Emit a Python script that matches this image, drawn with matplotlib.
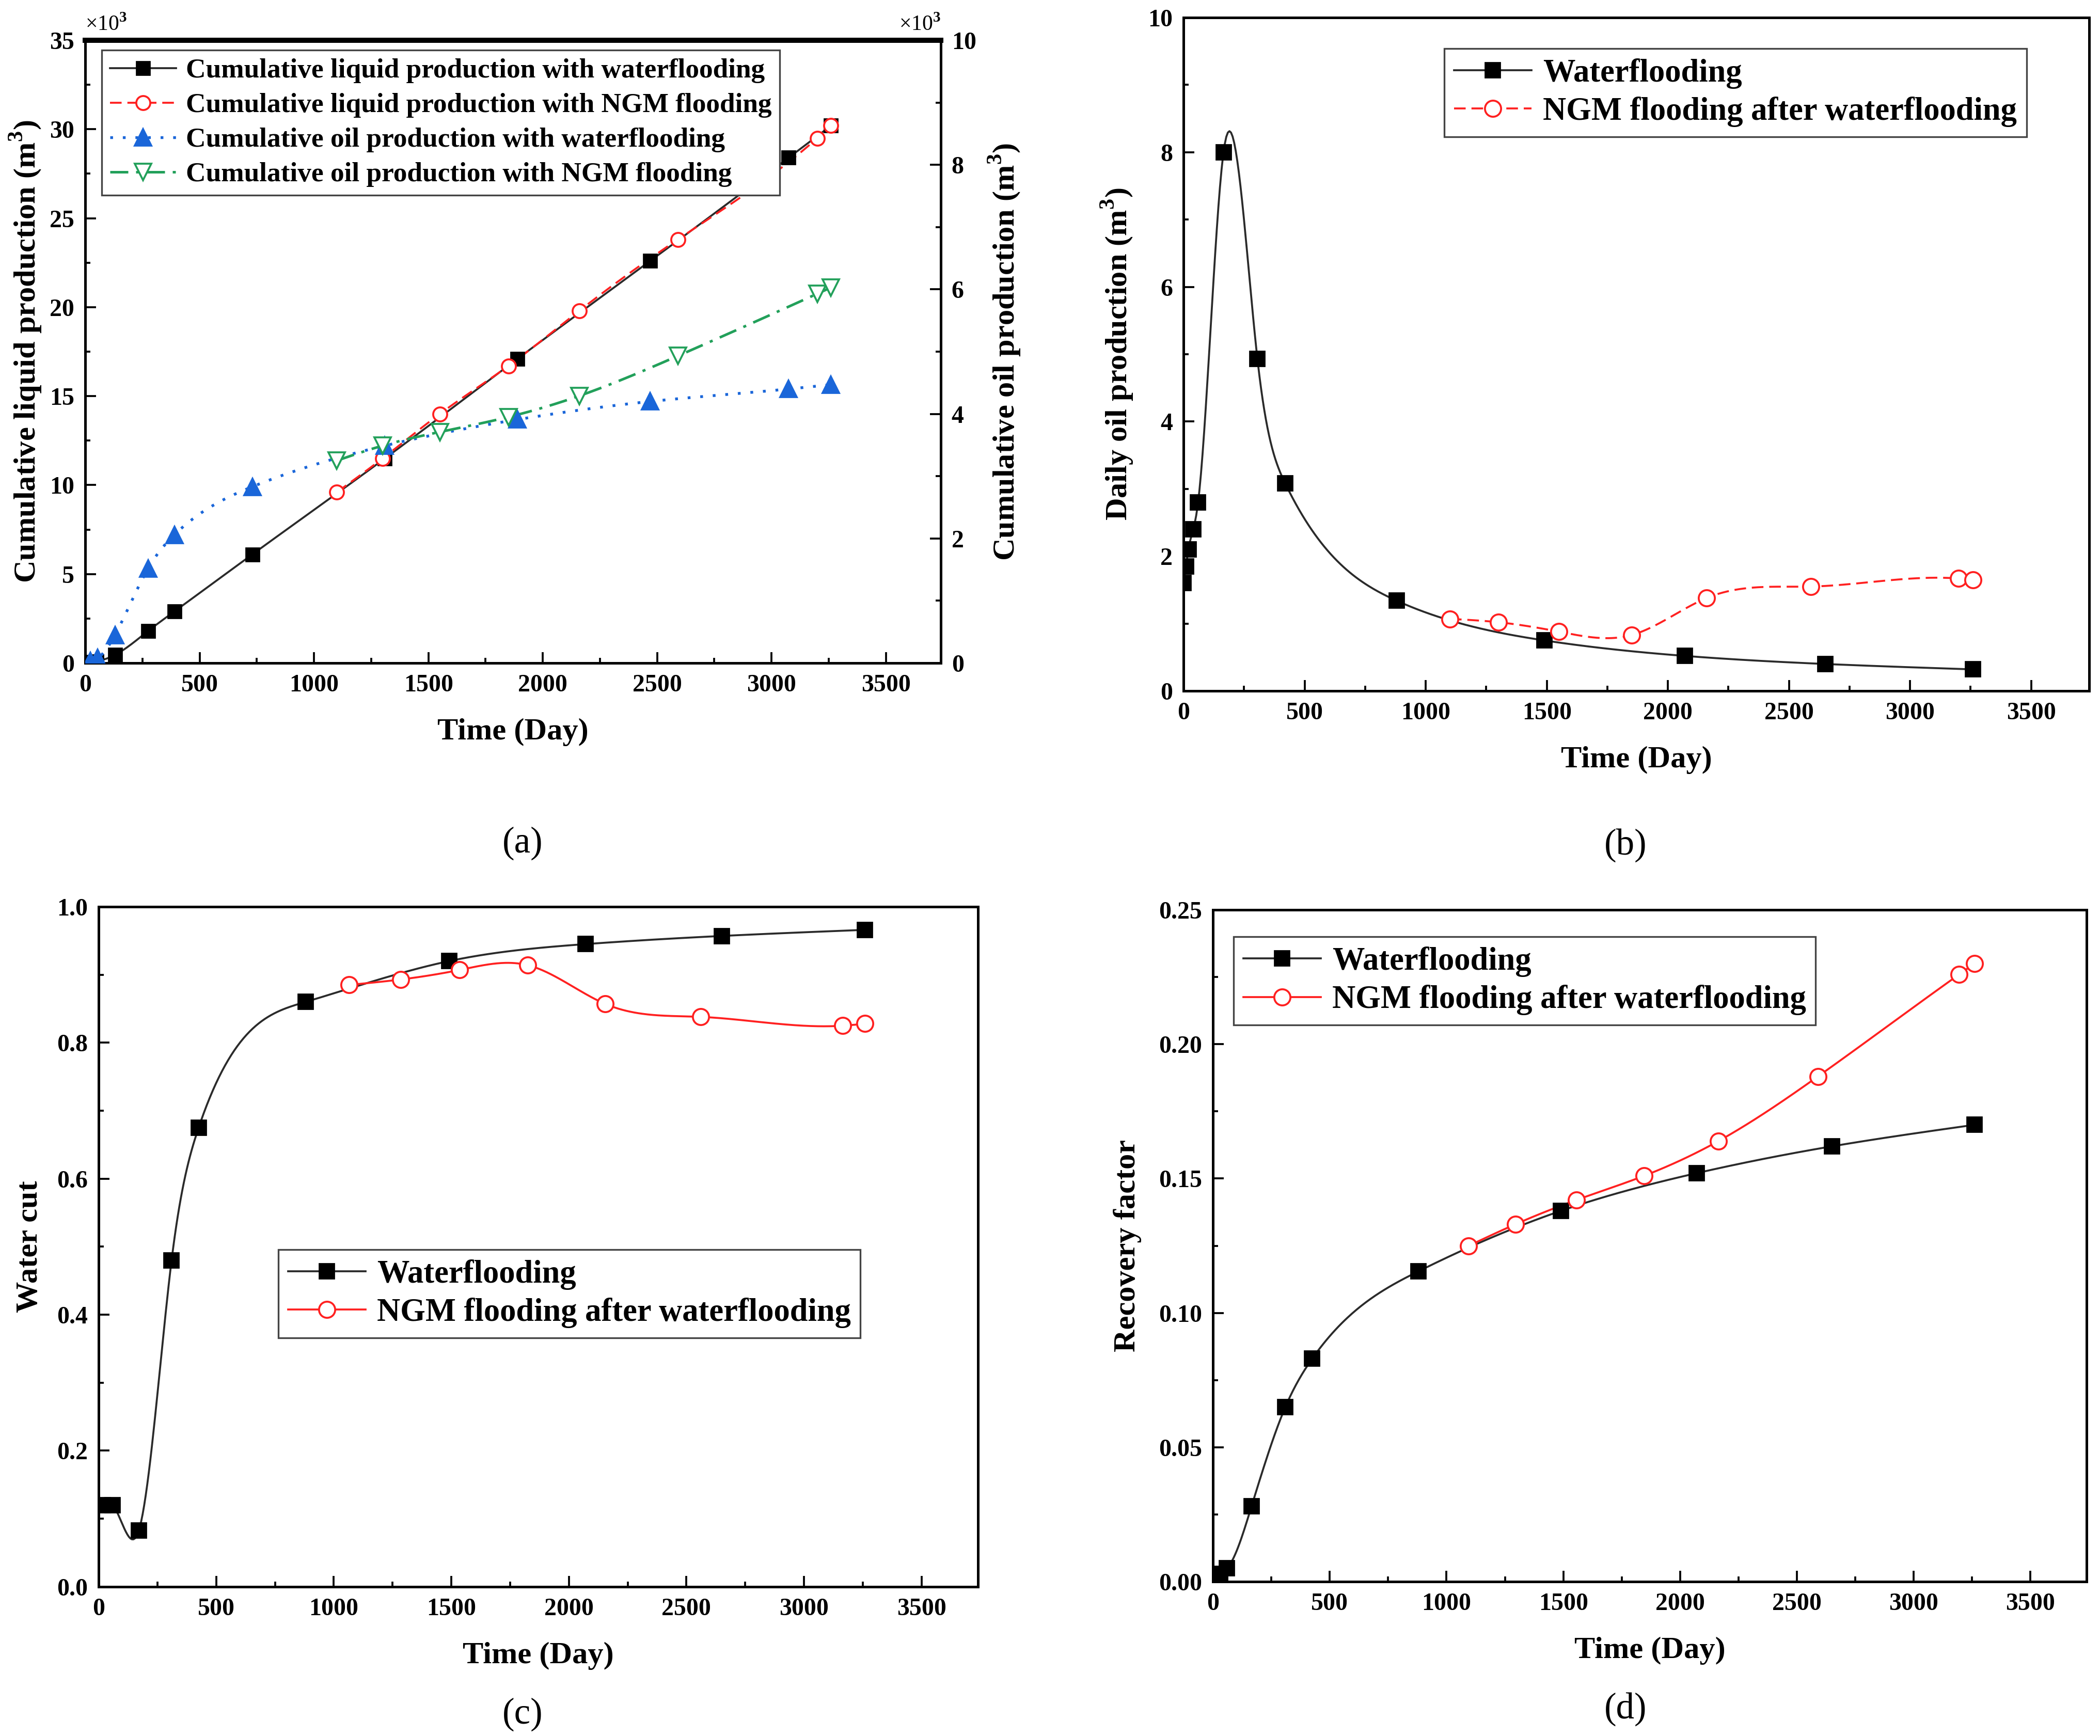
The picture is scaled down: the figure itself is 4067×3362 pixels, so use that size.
import numpy as np
import matplotlib
matplotlib.use("Agg")
import matplotlib.pyplot as plt
from matplotlib.lines import Line2D
from matplotlib.ticker import MultipleLocator

plt.rcParams['font.family'] = ['Liberation Serif', 'DejaVu Serif']
plt.rcParams['font.weight'] = 'bold'
plt.rcParams['mathtext.fontset'] = 'custom'
plt.rcParams['mathtext.rm'] = 'Liberation Serif'
plt.rcParams['mathtext.bf'] = 'Liberation Serif:bold'

# ---- data ----
# (a) cumulative production, liquid in 1e3 m3 (left axis), oil in 1e3 m3 (right axis)
a_liq_wf_x = [20, 50, 131, 275, 390, 730, 1310, 1890, 2470, 3075, 3260]
a_liq_wf_y = [0.05, 0.1, 0.46, 1.8, 2.9, 6.1, 11.5, 17.1, 22.6, 28.4, 30.2]
a_liq_ngm_x = [1100, 1300, 1550, 1850, 2160, 2590, 3200, 3260]
a_liq_ngm_y = [9.6, 11.5, 14.0, 16.7, 19.8, 23.8, 29.5, 30.2]
a_oil_wf_x = [22, 55, 130, 275, 390, 730, 1310, 1890, 2470, 3075, 3260]
a_oil_wf_y = [0.03, 0.08, 0.45, 1.52, 2.06, 2.83, 3.49, 3.91, 4.2, 4.4, 4.47]
a_oil_ngm_x = [1100, 1300, 1550, 1850, 2160, 2590, 3200, 3260]
a_oil_ngm_y = [3.25, 3.49, 3.71, 3.95, 4.29, 4.93, 5.93, 6.03]

# (b) daily oil production (m3)
b_wf_x = [0, 10, 20, 40, 60, 165, 305, 420, 880, 1490, 2070, 2650, 3260]
b_wf_y = [1.6, 1.85, 2.1, 2.4, 2.8, 8.0, 4.93, 3.08, 1.34, 0.75, 0.52, 0.40, 0.32]
b_ngm_x = [1100, 1300, 1550, 1850, 2160, 2590, 3200, 3260]
b_ngm_y = [1.07, 1.02, 0.88, 0.83, 1.38, 1.55, 1.67, 1.65]

# (c) water cut
c_wf_x = [18, 59, 171, 310, 425, 880, 1490, 2070, 2650, 3260]
c_wf_y = [0.12, 0.12, 0.083, 0.48, 0.675, 0.86, 0.92, 0.945, 0.957, 0.966]
c_ngm_x = [1065, 1285, 1535, 1825, 2155, 2560, 3165, 3260]
c_ngm_y = [0.885, 0.893, 0.907, 0.914, 0.857, 0.838, 0.825, 0.828]

# (d) recovery factor
d_wf_x = [10, 30, 60, 165, 310, 425, 880, 1490, 2070, 2650, 3260]
d_wf_y = [0.001, 0.003, 0.005, 0.028, 0.065, 0.083, 0.1155, 0.138, 0.152, 0.162, 0.170]
d_ngm_x = [1095, 1295, 1555, 1845, 2165, 2590, 3195, 3260]
d_ngm_y = [0.125, 0.133, 0.142, 0.151, 0.164, 0.188, 0.226, 0.230]

BLACK = '#000000'
LINE_GRAY = '#2a2a2a'
RED = '#ff2020'
BLUE = '#1a66d9'
GREEN = '#22a05a'


def spline_line(x, y, n=500):
    # natural cubic spline used only to draw the smooth connector (Origin "spline" style)
    x = np.asarray(x, float)
    y = np.asarray(y, float)
    N = len(x)
    h = np.diff(x)
    A = np.zeros((N, N))
    r = np.zeros(N)
    A[0, 0] = A[-1, -1] = 1
    for i in range(1, N - 1):
        A[i, i - 1] = h[i - 1]
        A[i, i] = 2 * (h[i - 1] + h[i])
        A[i, i + 1] = h[i]
        r[i] = 6 * ((y[i + 1] - y[i]) / h[i] - (y[i] - y[i - 1]) / h[i - 1])
    M = np.linalg.solve(A, r)
    xs = np.linspace(x[0], x[-1], n)
    k = np.clip(np.searchsorted(x, xs) - 1, 0, N - 2)
    t1 = x[k + 1] - xs
    t0 = xs - x[k]
    hk = h[k]
    ys = (M[k] * t1 ** 3 + M[k + 1] * t0 ** 3) / (6 * hk) \
        + (y[k] / hk - M[k] * hk / 6) * t1 + (y[k + 1] / hk - M[k + 1] * hk / 6) * t0
    return xs, ys


def style_axes(ax, ymax, ymajor, yminor, yfmt):
    ax.set_xlim(0, 3740)
    ax.set_ylim(0, ymax)
    ax.xaxis.set_major_locator(MultipleLocator(500))
    ax.xaxis.set_minor_locator(MultipleLocator(250))
    ax.yaxis.set_major_locator(MultipleLocator(ymajor))
    ax.yaxis.set_minor_locator(MultipleLocator(yminor))
    ax.yaxis.set_major_formatter(plt.FormatStrFormatter(yfmt))
    ax.tick_params(which='both', direction='in', top=False, right=False,
                   width=0.9, labelsize=11.5, pad=5)
    ax.tick_params(which='major', length=5)
    ax.tick_params(which='minor', length=2.5)
    for s in ax.spines.values():
        s.set_linewidth(1.2)
    ax.set_xlabel('Time (Day)', fontsize=14.5, fontweight='bold', labelpad=10)


def series(ax, x, y, color, ls, marker, mfc, ms, lw=0.9, lcolor=None):
    xs, ys = spline_line(x, y)
    ax.plot(xs, ys, color=lcolor or color, ls=ls, lw=lw, zorder=2)
    ax.plot(x, y, ls='none', marker=marker, ms=ms, mfc=mfc, mec=color,
            mew=0.9, zorder=3)
    return Line2D([], [], color=lcolor or color, ls=ls, lw=lw, marker=marker,
                  ms=ms, mfc=mfc, mec=color, mew=0.9)


def add_legend(ax, handles, labels, anchor, fs, spacing=0.25):
    leg = ax.legend(handles, labels, loc='upper left', bbox_to_anchor=anchor,
                    borderaxespad=0, fancybox=False, framealpha=1,
                    edgecolor='#444444', fontsize=fs, handlelength=2.4,
                    handletextpad=0.35, labelspacing=spacing, borderpad=0.3,
                    numpoints=1)
    leg.get_frame().set_linewidth(0.8)


W, H = 4067, 3362
fig = plt.figure(figsize=(W / 300, H / 300), dpi=300)

# ---------------- (a) ----------------
ax = fig.add_axes([0.0406, 0.6181, 0.4074, 0.3587])
axr = ax.twinx()
style_axes(ax, 35, 5, 2.5, '%d')
h1 = series(ax, a_liq_wf_x, a_liq_wf_y, BLACK, '-', 's', BLACK, 6, lcolor=LINE_GRAY)
h2 = series(ax, a_liq_ngm_x, a_liq_ngm_y, RED, (0, (6, 3)), 'o', 'white', 6.5)
h3 = series(axr, a_oil_wf_x, a_oil_wf_y, BLUE, (0, (1, 3.5)), '^', BLUE, 7.5, lw=1.3)
h4 = series(axr, a_oil_ngm_x, a_oil_ngm_y, GREEN, (0, (7, 3, 1.2, 3)), 'v', 'white', 7.5, lw=1.2)
axr.set_ylim(0, 10)
axr.yaxis.set_major_locator(MultipleLocator(2))
axr.yaxis.set_minor_locator(MultipleLocator(1))
axr.tick_params(which='both', direction='in', width=0.9, labelsize=11.5, pad=5)
axr.tick_params(which='major', length=5)
axr.tick_params(which='minor', length=2.5)
ax.spines['top'].set_linewidth(2.4)
ax.set_ylabel(r'Cumulative liquid production (m$^\mathbf{3}$)', fontsize=14.5,
              fontweight='bold', labelpad=3)
axr.set_ylabel(r'Cumulative oil production (m$^\mathbf{3}$)', fontsize=14.5,
               fontweight='bold', labelpad=5, rotation=90)
ax.text(0.0, 1.008, r'×10$^{\mathrm{3}}$', transform=ax.transAxes, ha='left',
        va='bottom', fontsize=10, fontweight='normal')
ax.text(1.0, 1.008, r'×10$^{\mathrm{3}}$', transform=ax.transAxes, ha='right',
        va='bottom', fontsize=10, fontweight='normal')
add_legend(ax, [h1, h2, h3, h4],
           ['Cumulative liquid production with waterflooding',
            'Cumulative liquid production with NGM flooding',
            'Cumulative oil production with waterflooding',
            'Cumulative oil production with NGM flooding'],
           (0.0193, 0.9842), 12.8, spacing=0.35)

# ---------------- (b) ----------------
ax = fig.add_axes([0.5636, 0.6020, 0.4313, 0.3879])
style_axes(ax, 10, 2, 1, '%d')
g1 = series(ax, b_wf_x, b_wf_y, BLACK, '-', 's', BLACK, 6.5, lcolor=LINE_GRAY)
g2 = series(ax, b_ngm_x, b_ngm_y, RED, (0, (6, 3)), 'o', 'white', 7.5)
ax.set_ylabel(r'Daily oil production (m$^\mathbf{3}$)', fontsize=14.5,
              fontweight='bold', labelpad=6)
add_legend(ax, [g1, g2], ['Waterflooding', 'NGM flooding after waterflooding'],
           (0.288, 0.954), 15)

# ---------------- (c) ----------------
ax = fig.add_axes([0.0470, 0.0860, 0.4187, 0.3917])
style_axes(ax, 1.0, 0.2, 0.1, '%.1f')
k1 = series(ax, c_wf_x, c_wf_y, BLACK, '-', 's', BLACK, 6.5, lcolor=LINE_GRAY)
k2 = series(ax, c_ngm_x, c_ngm_y, RED, '-', 'o', 'white', 7.5)
ax.set_ylabel('Water cut', fontsize=14.5, fontweight='bold', labelpad=6)
add_legend(ax, [k1, k2], ['Waterflooding', 'NGM flooding after waterflooding'],
           (0.2043, 0.4958), 15)

# ---------------- (d) ----------------
ax = fig.add_axes([0.5776, 0.0889, 0.4160, 0.3870])
style_axes(ax, 0.25, 0.05, 0.025, '%.2f')
m1 = series(ax, d_wf_x, d_wf_y, BLACK, '-', 's', BLACK, 6.5, lcolor=LINE_GRAY)
m2 = series(ax, d_ngm_x, d_ngm_y, RED, '-', 'o', 'white', 7.5)
ax.set_ylabel('Recovery factor', fontsize=14.5, fontweight='bold', labelpad=8)
add_legend(ax, [m1, m2], ['Waterflooding', 'NGM flooding after waterflooding'],
           (0.0237, 0.96), 15)

# panel letters
for lab, (px, py) in zip(['(a)', '(b)', '(c)', '(d)'],
                         [(0.2488, 0.5143), (0.774, 0.5131),
                          (0.2488, 0.0125), (0.774, 0.0155)]):
    fig.text(px, py, lab, ha='center', va='center', fontsize=17,
             fontweight='normal')

fig.savefig('out.png', dpi=300)
